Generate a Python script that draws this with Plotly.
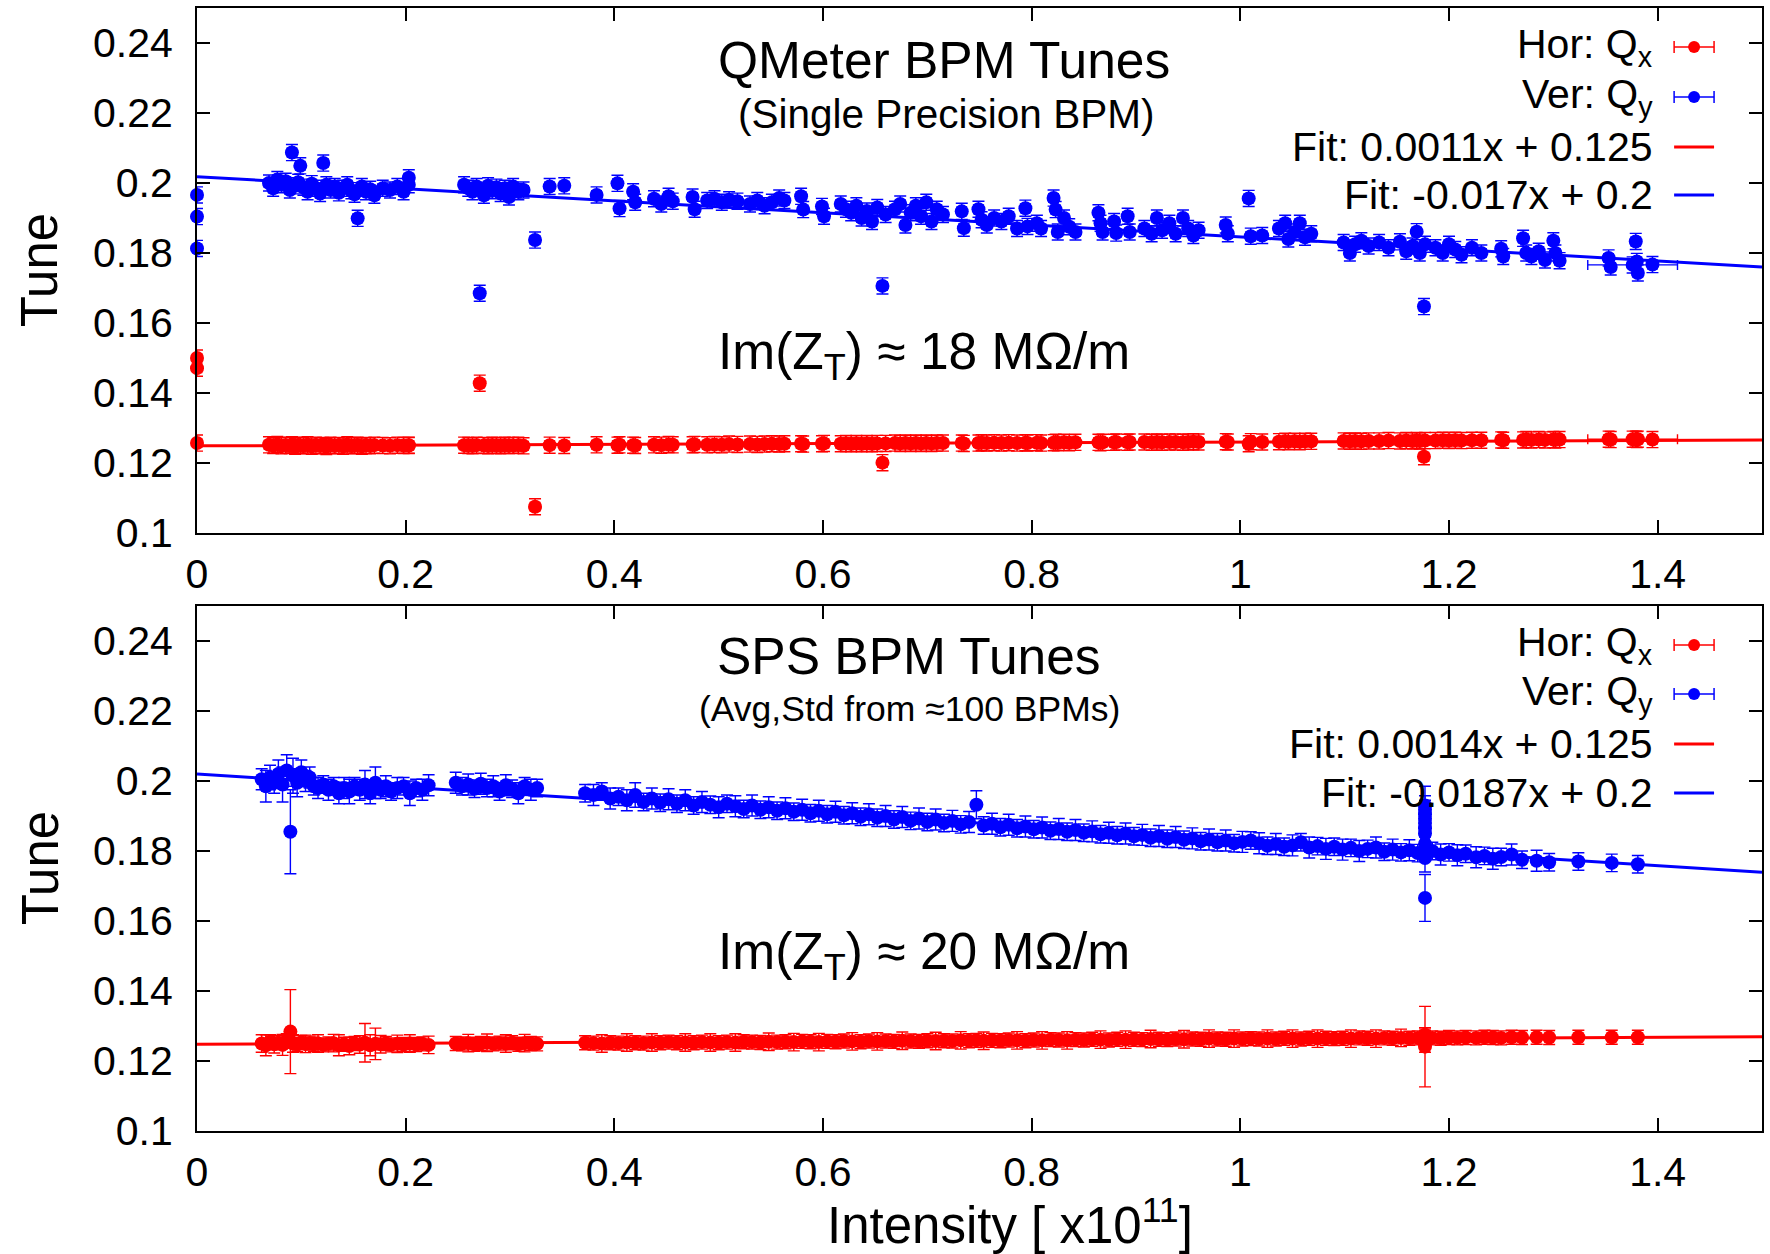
import plotly.graph_objects as go

# ---------------- DATA ----------------
# Top panel: QMeter BPM tunes (intensity in 1e11)
x_top = [
    0.000, 0.000, 0.000, 0.069, 0.073, 0.077, 0.081, 0.085, 0.089, 0.091,
    0.094, 0.097, 0.099, 0.102, 0.106, 0.110, 0.114, 0.118, 0.121, 0.124,
    0.128, 0.132, 0.136, 0.140, 0.144, 0.148, 0.151, 0.154, 0.158, 0.162,
    0.166, 0.170, 0.178, 0.185, 0.192, 0.198, 0.203, 0.203, 0.256, 0.260,
    0.264, 0.268, 0.271, 0.275, 0.279, 0.283, 0.287, 0.291, 0.295, 0.299,
    0.303, 0.308, 0.313, 0.324, 0.338, 0.352, 0.383, 0.403, 0.405, 0.418,
    0.420, 0.438, 0.445, 0.452, 0.456, 0.475, 0.477, 0.489, 0.496, 0.503,
    0.510, 0.518, 0.530, 0.537, 0.544, 0.551, 0.558, 0.563, 0.579, 0.581,
    0.599, 0.601, 0.617, 0.622, 0.627, 0.632, 0.637, 0.642, 0.647, 0.652,
    0.657, 0.660, 0.669, 0.674, 0.679, 0.684, 0.689, 0.694, 0.699, 0.704,
    0.709, 0.715, 0.733, 0.735, 0.749, 0.752, 0.757, 0.764, 0.771, 0.778,
    0.786, 0.794, 0.796, 0.805, 0.809, 0.821, 0.823, 0.825, 0.831, 0.836,
    0.842, 0.864, 0.866, 0.868, 0.879, 0.881, 0.892, 0.894, 0.908, 0.915,
    0.920, 0.925, 0.932, 0.938, 0.945, 0.950, 0.955, 0.960, 0.986, 0.988,
    1.008, 1.010, 1.021, 1.037, 1.043, 1.046, 1.052, 1.057, 1.062, 1.068,
    1.099, 1.105, 1.110, 1.116, 1.123, 1.133, 1.142, 1.153, 1.159, 1.165,
    1.169, 1.172, 1.176, 1.177, 1.187, 1.194, 1.200, 1.206, 1.212, 1.222,
    1.231, 1.250, 1.252, 1.271, 1.274, 1.279, 1.286, 1.292, 1.300, 1.302,
    1.306, 1.353, 1.355, 1.379, 1.380, 1.381, 1.395,
]
qy_top = [
    0.1966, 0.1904, 0.1813, 0.2000, 0.1985, 0.2010, 0.1995, 0.2005, 0.1980, 0.2087,
    0.1992, 0.2002, 0.2049, 0.1988, 0.1975, 0.1998, 0.1985, 0.1970, 0.2057, 0.1995,
    0.1980, 0.1990, 0.1972, 0.1985, 0.1995, 0.1978, 0.1968, 0.1899, 0.1990, 0.1975,
    0.1982, 0.1965, 0.1985, 0.1980, 0.1990, 0.1975, 0.2015, 0.1995, 0.1995, 0.1985,
    0.1975, 0.1990, 0.1685, 0.1965, 0.1992, 0.1978, 0.1988, 0.1970, 0.1985, 0.1960,
    0.1990, 0.1975, 0.1980, 0.1837, 0.1990, 0.1992, 0.1966, 0.1999, 0.1927, 0.1975,
    0.1945, 0.1955, 0.1940, 0.1962, 0.1948, 0.1960, 0.1925, 0.1950, 0.1955, 0.1945,
    0.1952, 0.1948, 0.1940, 0.1950, 0.1935, 0.1945, 0.1957, 0.1950, 0.1962, 0.1924,
    0.1933, 0.1905, 0.1940, 0.1925, 0.1915, 0.1935, 0.1900, 0.1920, 0.1890, 0.1930,
    0.1706, 0.1910, 0.1925, 0.1940, 0.1880, 0.1915, 0.1935, 0.1905, 0.1945, 0.1890,
    0.1925, 0.1910, 0.1919, 0.1871, 0.1925, 0.1895, 0.1880, 0.1900, 0.1890, 0.1905,
    0.1870, 0.1928, 0.1876, 0.1885, 0.1870, 0.1957, 0.1924, 0.1860, 0.1900, 0.1875,
    0.1860, 0.1915, 0.1885, 0.1860, 0.1890, 0.1857, 0.1905, 0.1860, 0.1870, 0.1855,
    0.1900, 0.1865, 0.1885, 0.1855, 0.1900, 0.1870, 0.1850, 0.1865, 0.1880, 0.1855,
    0.1956, 0.1848, 0.1850, 0.1870, 0.1885, 0.1840, 0.1860, 0.1885, 0.1845, 0.1855,
    0.1830, 0.1800, 0.1825, 0.1835, 0.1820, 0.1830, 0.1815, 0.1832, 0.1805, 0.1820,
    0.1861, 0.1800, 0.1647, 0.1825, 0.1815, 0.1800, 0.1825, 0.1810, 0.1795, 0.1815,
    0.1800, 0.1812, 0.1790, 0.1842, 0.1800, 0.1790, 0.1805, 0.1780, 0.1835, 0.1800,
    0.1778, 0.1786, 0.1760, 0.1833, 0.1776, 0.1743, 0.1767,
]
qx_top = [
    0.1500, 0.1471, 0.1257, 0.1252, 0.1250, 0.1253, 0.1249, 0.1251, 0.1250, 0.1252,
    0.1248, 0.1251, 0.1250, 0.1249, 0.1252, 0.1248, 0.1251, 0.1249, 0.1250, 0.1247,
    0.1251, 0.1249, 0.1250, 0.1248, 0.1252, 0.1249, 0.1250, 0.1251, 0.1248, 0.1250,
    0.1249, 0.1251, 0.1250, 0.1249, 0.1251, 0.1250, 0.1250, 0.1251, 0.1251, 0.1250,
    0.1249, 0.1251, 0.1428, 0.1250, 0.1249, 0.1251, 0.1250, 0.1249, 0.1251, 0.1250,
    0.1250, 0.1251, 0.1249, 0.1075, 0.1251, 0.1250, 0.1252, 0.1251, 0.1252, 0.1251,
    0.1250, 0.1252, 0.1251, 0.1253, 0.1252, 0.1252, 0.1253, 0.1252, 0.1253, 0.1252,
    0.1254, 0.1253, 0.1254, 0.1253, 0.1254, 0.1255, 0.1254, 0.1255, 0.1255, 0.1254,
    0.1255, 0.1256, 0.1255, 0.1256, 0.1255, 0.1256, 0.1255, 0.1256, 0.1255, 0.1256,
    0.1201, 0.1256, 0.1257, 0.1256, 0.1257, 0.1256, 0.1257, 0.1256, 0.1257, 0.1256,
    0.1257, 0.1257, 0.1257, 0.1256, 0.1257, 0.1258, 0.1257, 0.1258, 0.1257, 0.1258,
    0.1257, 0.1258, 0.1257, 0.1258, 0.1257, 0.1258, 0.1259, 0.1258, 0.1259, 0.1258,
    0.1259, 0.1259, 0.1258, 0.1259, 0.1259, 0.1260, 0.1259, 0.1260, 0.1260, 0.1259,
    0.1260, 0.1259, 0.1260, 0.1260, 0.1259, 0.1260, 0.1261, 0.1260, 0.1261, 0.1260,
    0.1255, 0.1261, 0.1260, 0.1261, 0.1262, 0.1261, 0.1262, 0.1261, 0.1262, 0.1262,
    0.1263, 0.1262, 0.1263, 0.1262, 0.1263, 0.1263, 0.1264, 0.1263, 0.1264, 0.1263,
    0.1264, 0.1263, 0.1218, 0.1264, 0.1264, 0.1265, 0.1264, 0.1265, 0.1264, 0.1265,
    0.1265, 0.1266, 0.1265, 0.1266, 0.1267, 0.1266, 0.1267, 0.1266, 0.1267, 0.1266,
    0.1267, 0.1268, 0.1267, 0.1268, 0.1267, 0.1268, 0.1267,
]
# one top-panel point carrying a wide horizontal error bar
wide_x_top = [1.376]
wide_xerr_top = [0.043]
wide_qx_top = [0.1268]
wide_qy_top = [0.1766]

# Bottom panel: SPS BPM tunes (average and std over ~100 BPMs)
x_bot = [
    0.062, 0.066, 0.070, 0.074, 0.078, 0.082, 0.086, 0.0895, 0.092, 0.096,
    0.100, 0.104, 0.108, 0.112, 0.116, 0.121, 0.126, 0.131, 0.136, 0.141,
    0.146, 0.151, 0.156, 0.161, 0.166, 0.171, 0.176, 0.181, 0.186, 0.192,
    0.198, 0.204, 0.210, 0.216, 0.222, 0.248, 0.254, 0.260, 0.266, 0.272,
    0.278, 0.284, 0.290, 0.296, 0.302, 0.308, 0.314, 0.320, 0.326, 0.372,
    0.380, 0.388, 0.396, 0.404, 0.412, 0.420, 0.428, 0.436, 0.444, 0.452,
    0.460, 0.468, 0.476, 0.484, 0.492, 0.500, 0.508, 0.516, 0.524, 0.532,
    0.540, 0.548, 0.556, 0.564, 0.572, 0.580, 0.588, 0.596, 0.604, 0.612,
    0.620, 0.628, 0.636, 0.644, 0.652, 0.660, 0.668, 0.676, 0.684, 0.692,
    0.700, 0.708, 0.716, 0.724, 0.732, 0.740, 0.747, 0.754, 0.762, 0.770,
    0.778, 0.786, 0.794, 0.802, 0.810, 0.818, 0.826, 0.834, 0.842, 0.850,
    0.858, 0.866, 0.874, 0.882, 0.890, 0.898, 0.906, 0.914, 0.922, 0.930,
    0.938, 0.946, 0.954, 0.962, 0.970, 0.978, 0.986, 0.994, 1.002, 1.010,
    1.018, 1.026, 1.034, 1.042, 1.050, 1.058, 1.066, 1.074, 1.082, 1.090,
    1.098, 1.106, 1.114, 1.122, 1.130, 1.138, 1.146, 1.154, 1.162, 1.170,
    1.177, 1.177, 1.177, 1.177, 1.177, 1.177, 1.184, 1.192, 1.200, 1.208,
    1.177, 1.177, 1.177, 1.177,
    1.216, 1.226, 1.234, 1.242, 1.250, 1.260, 1.270, 1.284, 1.296, 1.324,
    1.356, 1.381,
]
qy_bot = [
    0.2005, 0.1985, 0.2010, 0.1995, 0.2020, 0.1990, 0.2030, 0.1855, 0.2015, 0.1995,
    0.2025, 0.2000, 0.2010, 0.1985, 0.1980, 0.1990, 0.1975, 0.1985, 0.1965, 0.1980,
    0.1970, 0.1985, 0.1975, 0.1990, 0.1965, 0.1995, 0.1975, 0.1985, 0.1970, 0.1980,
    0.1985, 0.1965, 0.1980, 0.1975, 0.1988, 0.1995, 0.1985, 0.1990, 0.1978, 0.1992,
    0.1980, 0.1985, 0.1970, 0.1988, 0.1978, 0.1965, 0.1985, 0.1975, 0.1980, 0.1965,
    0.1960, 0.1970, 0.1950, 0.1955, 0.1945, 0.1960, 0.1940, 0.1950, 0.1938, 0.1948,
    0.1935, 0.1945, 0.1930, 0.1940, 0.1932, 0.1925, 0.1935, 0.1928, 0.1920, 0.1930,
    0.1918, 0.1925, 0.1915, 0.1922, 0.1912, 0.1918, 0.1908, 0.1915, 0.1905, 0.1912,
    0.1902, 0.1908, 0.1898, 0.1905, 0.1895, 0.1900, 0.1890, 0.1897, 0.1886, 0.1893,
    0.1883, 0.1890, 0.1880, 0.1886, 0.1876, 0.1883, 0.1932, 0.1873, 0.1878, 0.1868,
    0.1875, 0.1865, 0.1870, 0.1862, 0.1867, 0.1858, 0.1863, 0.1855, 0.1860, 0.1852,
    0.1856, 0.1848, 0.1852, 0.1845, 0.1850, 0.1842, 0.1846, 0.1838, 0.1843, 0.1835,
    0.1840, 0.1832, 0.1836, 0.1828, 0.1833, 0.1825, 0.1830, 0.1822, 0.1826, 0.1830,
    0.1822, 0.1815, 0.1820, 0.1812, 0.1816, 0.1825, 0.1810, 0.1814, 0.1806, 0.1812,
    0.1804, 0.1809, 0.1800, 0.1806, 0.1810, 0.1798, 0.1804, 0.1796, 0.1802, 0.1794,
    0.1930, 0.1905, 0.1880, 0.1850, 0.1780, 0.1666, 0.1800, 0.1790, 0.1796, 0.1788,
    0.1918, 0.1892, 0.1865, 0.1820,
    0.1792, 0.1782, 0.1786, 0.1778, 0.1783, 0.1790, 0.1775, 0.1772, 0.1768, 0.1770,
    0.1766, 0.1762,
]
qy_err_bot = [
    0.0030, 0.0045, 0.0035, 0.0030, 0.0040, 0.0050, 0.0045, 0.0120, 0.0050, 0.0040,
    0.0035, 0.0030, 0.0030, 0.0025, 0.0030, 0.0025, 0.0030, 0.0025, 0.0030, 0.0030,
    0.0035, 0.0025, 0.0030, 0.0040, 0.0030, 0.0045, 0.0025, 0.0030, 0.0025, 0.0030,
    0.0025, 0.0035, 0.0025, 0.0030, 0.0030, 0.0030, 0.0025, 0.0030, 0.0025, 0.0030,
    0.0025, 0.0030, 0.0025, 0.0030, 0.0025, 0.0030, 0.0025, 0.0030, 0.0025, 0.0025,
    0.0030, 0.0025, 0.0030, 0.0025, 0.0030, 0.0035, 0.0025, 0.0030, 0.0025, 0.0030,
    0.0025, 0.0030, 0.0025, 0.0030, 0.0025, 0.0030, 0.0025, 0.0030, 0.0025, 0.0030,
    0.0025, 0.0030, 0.0025, 0.0030, 0.0025, 0.0030, 0.0025, 0.0030, 0.0025, 0.0030,
    0.0025, 0.0030, 0.0025, 0.0030, 0.0025, 0.0030, 0.0025, 0.0030, 0.0025, 0.0030,
    0.0025, 0.0030, 0.0025, 0.0030, 0.0025, 0.0030, 0.0040, 0.0025, 0.0030, 0.0025,
    0.0030, 0.0025, 0.0030, 0.0025, 0.0030, 0.0025, 0.0030, 0.0025, 0.0030, 0.0025,
    0.0030, 0.0025, 0.0030, 0.0025, 0.0030, 0.0025, 0.0030, 0.0025, 0.0030, 0.0025,
    0.0030, 0.0025, 0.0030, 0.0025, 0.0030, 0.0025, 0.0030, 0.0025, 0.0030, 0.0025,
    0.0030, 0.0025, 0.0030, 0.0025, 0.0030, 0.0025, 0.0030, 0.0025, 0.0030, 0.0025,
    0.0030, 0.0025, 0.0030, 0.0025, 0.0030, 0.0025, 0.0030, 0.0025, 0.0030, 0.0025,
    0.0055, 0.0040, 0.0040, 0.0040, 0.0040, 0.0067, 0.0025, 0.0030, 0.0025, 0.0030,
    0.0040, 0.0040, 0.0040, 0.0040,
    0.0025, 0.0030, 0.0025, 0.0030, 0.0025, 0.0030, 0.0025, 0.0030, 0.0025, 0.0025,
    0.0025, 0.0025,
]
qx_bot = [
    0.1250, 0.1245, 0.1255, 0.1248, 0.1252, 0.1246, 0.1258, 0.1284, 0.1250, 0.1247,
    0.1253, 0.1249, 0.1251, 0.1248, 0.1250, 0.1246, 0.1249, 0.1251, 0.1245, 0.1248,
    0.1243, 0.1250, 0.1247, 0.1252, 0.1245, 0.1249, 0.1248, 0.1250, 0.1246, 0.1249,
    0.1247, 0.1250, 0.1247, 0.1249, 0.1246, 0.1250, 0.1249, 0.1251, 0.1248, 0.1250,
    0.1252, 0.1249, 0.1251, 0.1250, 0.1252, 0.1248, 0.1251, 0.1250, 0.1249, 0.1252,
    0.1251, 0.1250, 0.1252, 0.1251, 0.1253, 0.1252, 0.1251, 0.1253, 0.1252, 0.1254,
    0.1252, 0.1253, 0.1252, 0.1254, 0.1253, 0.1252, 0.1254, 0.1253, 0.1255, 0.1254,
    0.1253, 0.1255, 0.1254, 0.1255, 0.1254, 0.1256, 0.1255, 0.1254, 0.1256, 0.1255,
    0.1257, 0.1256, 0.1255, 0.1257, 0.1256, 0.1257, 0.1256, 0.1258, 0.1257, 0.1256,
    0.1258, 0.1257, 0.1258, 0.1257, 0.1259, 0.1258, 0.1259, 0.1258, 0.1259, 0.1258,
    0.1260, 0.1259, 0.1258, 0.1260, 0.1259, 0.1261, 0.1260, 0.1259, 0.1261, 0.1260,
    0.1262, 0.1261, 0.1260, 0.1262, 0.1261, 0.1262, 0.1261, 0.1263, 0.1262, 0.1261,
    0.1263, 0.1262, 0.1263, 0.1262, 0.1264, 0.1263, 0.1262, 0.1264, 0.1263, 0.1264,
    0.1263, 0.1264, 0.1263, 0.1265, 0.1264, 0.1263, 0.1265, 0.1264, 0.1265, 0.1264,
    0.1265, 0.1264, 0.1266, 0.1265, 0.1264, 0.1266, 0.1265, 0.1266, 0.1265, 0.1266,
    0.1241, 0.1275, 0.1262, 0.1250, 0.1268, 0.1258, 0.1266, 0.1265, 0.1267, 0.1266,
    0.1262, 0.1256, 0.1270, 0.1259,
    0.1267, 0.1266, 0.1268, 0.1267, 0.1266, 0.1268, 0.1267, 0.1268, 0.1267, 0.1268,
    0.1268, 0.1268,
]
qx_err_bot = [
    0.0025, 0.0030, 0.0020, 0.0025, 0.0020, 0.0030, 0.0020, 0.0120, 0.0025, 0.0020,
    0.0020, 0.0025, 0.0020, 0.0020, 0.0025, 0.0020, 0.0020, 0.0025, 0.0030, 0.0020,
    0.0025, 0.0020, 0.0025, 0.0055, 0.0030, 0.0045, 0.0025, 0.0020, 0.0020, 0.0025,
    0.0020, 0.0025, 0.0020, 0.0020, 0.0025, 0.0020, 0.0020, 0.0025, 0.0020, 0.0020,
    0.0025, 0.0020, 0.0020, 0.0025, 0.0020, 0.0020, 0.0025, 0.0020, 0.0020, 0.0020,
    0.0020, 0.0025, 0.0020, 0.0020, 0.0025, 0.0020, 0.0020, 0.0025, 0.0020, 0.0020,
    0.0020, 0.0025, 0.0020, 0.0020, 0.0025, 0.0020, 0.0020, 0.0025, 0.0020, 0.0020,
    0.0020, 0.0025, 0.0020, 0.0020, 0.0025, 0.0020, 0.0020, 0.0025, 0.0020, 0.0020,
    0.0020, 0.0025, 0.0020, 0.0020, 0.0025, 0.0020, 0.0020, 0.0025, 0.0020, 0.0020,
    0.0020, 0.0025, 0.0020, 0.0020, 0.0025, 0.0020, 0.0020, 0.0025, 0.0020, 0.0020,
    0.0020, 0.0025, 0.0020, 0.0020, 0.0025, 0.0020, 0.0020, 0.0025, 0.0020, 0.0020,
    0.0020, 0.0025, 0.0020, 0.0020, 0.0025, 0.0020, 0.0020, 0.0025, 0.0020, 0.0020,
    0.0020, 0.0025, 0.0020, 0.0020, 0.0025, 0.0020, 0.0020, 0.0025, 0.0020, 0.0020,
    0.0020, 0.0025, 0.0020, 0.0020, 0.0025, 0.0020, 0.0020, 0.0025, 0.0020, 0.0020,
    0.0020, 0.0025, 0.0020, 0.0020, 0.0025, 0.0020, 0.0020, 0.0025, 0.0020, 0.0020,
    0.0115, 0.0020, 0.0020, 0.0025, 0.0020, 0.0020, 0.0020, 0.0020, 0.0020, 0.0020,
    0.0020, 0.0020, 0.0025, 0.0020,
    0.0020, 0.0020, 0.0020, 0.0020, 0.0020, 0.0020, 0.0020, 0.0020, 0.0020, 0.0020,
    0.0020, 0.0020,
]

# linear fits: (slope, intercept) and legend labels
fit_top_qx = (0.0011, 0.1249)
fit_top_qy = (-0.0172, 0.2018)
fit_bot_qx = (0.0014, 0.1248)
fit_bot_qy = (-0.0187, 0.2020)
fit_x_range = [0.0, 1.5]
labels_top = ["Hor: Q<sub>x</sub>", "Ver: Q<sub>y</sub>",
              "Fit: 0.0011x + 0.125", "Fit: -0.017x + 0.2"]
labels_bot = ["Hor: Q<sub>x</sub>", "Ver: Q<sub>y</sub>",
              "Fit: 0.0014x + 0.125", "Fit: -0.0187x + 0.2"]

x_ticks = [0, 0.2, 0.4, 0.6, 0.8, 1.0, 1.2, 1.4]
x_ticktext = ["0", "0.2", "0.4", "0.6", "0.8", "1", "1.2", "1.4"]
y_ticks = [0.10, 0.12, 0.14, 0.16, 0.18, 0.20, 0.22, 0.24]
y_ticktext = ["0.1", "0.12", "0.14", "0.16", "0.18", "0.2", "0.22", "0.24"]

# ---------------- FIGURE ----------------
W, H = 1770, 1254
L, R, T, B = 197, 1764, 8, 1131
TOP_BOTTOM_PX, BOT_TOP_PX = 533, 606
FONT = "Liberation Sans, Arial, Helvetica, sans-serif"
RED, BLUE = "#ff0000", "#0000ff"
BIG, SMALL = 51.5, 41


def px(x):
    return (x - L) / (R - L)


def py(y):
    return (B - y) / (B - T)


fig = go.Figure()


def add_points(x, y, color, xa, ya, yerr=None, yerr_const=None, xerr_const=None, xerr=None):
    ey = dict(type="data", array=yerr, visible=True) if yerr is not None else \
        dict(type="constant", value=yerr_const, visible=True)
    ex = dict(type="data", array=xerr, visible=True) if xerr is not None else \
        dict(type="constant", value=xerr_const, visible=True)
    ey.update(color=color, thickness=1.4, width=6)
    ex.update(color=color, thickness=1.4, width=5)
    fig.add_trace(go.Scatter(
        x=x, y=y, mode="markers", xaxis=xa, yaxis=ya, cliponaxis=False,
        marker=dict(color=color, size=14, line=dict(width=0)),
        error_y=ey, error_x=ex, showlegend=False, hoverinfo="skip"))


def add_fit(fit, color, xa, ya):
    m, b = fit
    fig.add_trace(go.Scatter(
        x=fit_x_range, y=[b + m * v for v in fit_x_range], mode="lines",
        xaxis=xa, yaxis=ya, line=dict(color=color, width=3),
        showlegend=False, hoverinfo="skip"))


# top panel
add_fit(fit_top_qx, RED, "x", "y")
add_fit(fit_top_qy, BLUE, "x", "y")
add_points(x_top, qx_top, RED, "x", "y", yerr_const=0.0023, xerr_const=0.0045)
add_points(x_top, qy_top, BLUE, "x", "y", yerr_const=0.0023, xerr_const=0.0045)
add_points(wide_x_top, wide_qx_top, RED, "x", "y", yerr_const=0.0023, xerr=wide_xerr_top)
add_points(wide_x_top, wide_qy_top, BLUE, "x", "y", yerr_const=0.0023, xerr=wide_xerr_top)

# bottom panel
add_fit(fit_bot_qx, RED, "x2", "y2")
add_fit(fit_bot_qy, BLUE, "x2", "y2")
add_points(x_bot, qx_bot, RED, "x2", "y2", yerr=qx_err_bot, xerr_const=0.004)
add_points(x_bot, qy_bot, BLUE, "x2", "y2", yerr=qy_err_bot, xerr_const=0.004)

axis_common = dict(
    showline=True, linewidth=2, linecolor="black", mirror="ticks",
    ticks="inside", ticklen=13, tickwidth=2, tickcolor="black",
    showgrid=False, zeroline=False,
    tickfont=dict(family=FONT, size=SMALL, color="black"),
)
xax = dict(axis_common, range=[0, 1.5], tickvals=x_ticks, ticktext=x_ticktext,
           ticklabelstandoff=4)
yax = dict(axis_common, range=[0.1, 0.25], tickvals=y_ticks, ticktext=y_ticktext,
           ticklabelstandoff=14)

fig.update_layout(
    width=W, height=H,
    margin=dict(l=L, r=W - R, t=T, b=H - B, pad=0),
    paper_bgcolor="white", plot_bgcolor="white",
    font=dict(family=FONT, color="black"),
    xaxis=dict(xax, domain=[0, 1], anchor="y"),
    yaxis=dict(yax, domain=[py(TOP_BOTTOM_PX), 1], anchor="x"),
    xaxis2=dict(xax, domain=[0, 1], anchor="y2"),
    yaxis2=dict(yax, domain=[0, py(BOT_TOP_PX)], anchor="x2"),
    showlegend=False,
)

annotations = []
shapes = []


def text(xp, yp, s, size, xanchor="center"):
    annotations.append(dict(
        x=px(xp), y=py(yp), xref="paper", yref="paper", text=s, showarrow=False,
        xanchor=xanchor, yanchor="middle", font=dict(family=FONT, size=size, color="black")))


# titles and notes
text(945, 60, "QMeter BPM Tunes", BIG)
text(947, 114, "(Single Precision BPM)", 40.5)
text(925, 355, "Im(Z<sub>T</sub>) ≈ 18 MΩ/m", BIG)
text(910, 656, "SPS BPM Tunes", BIG)
text(910, 709, "(Avg,Std from ≈100 BPMs)", 35.5)
text(925, 955, "Im(Z<sub>T</sub>) ≈ 20 MΩ/m", BIG)

# axis titles
for ty in (270, 868):
    annotations.append(dict(x=px(40), y=py(ty), xref="paper", yref="paper", text="Tune",
                            textangle=-90, showarrow=False, xanchor="center", yanchor="middle",
                            font=dict(family=FONT, size=51, color="black")))
text(1011, 1222, "Intensity [ x10<sup>11</sup>]", 51)

# custom legends (text right-aligned, key on the right)
KEY_X0, KEY_X1, TEXT_R = 1676, 1716, 1657


def legend(rows_y, labels):
    for i, (yy, lab) in enumerate(zip(rows_y, labels)):
        text(TEXT_R, yy, lab, SMALL, xanchor="right")
        color = RED if i in (0, 2) else BLUE
        if i < 2:
            shapes.append(dict(type="line", xref="paper", yref="paper",
                               x0=px(KEY_X0), x1=px(KEY_X1), y0=py(yy), y1=py(yy),
                               line=dict(color=color, width=1.5)))
            for kx in (KEY_X0, KEY_X1):
                shapes.append(dict(type="line", xref="paper", yref="paper",
                                   x0=px(kx), x1=px(kx), y0=py(yy - 6), y1=py(yy + 6),
                                   line=dict(color=color, width=1.5)))
            cx = (KEY_X0 + KEY_X1) / 2
            shapes.append(dict(type="circle", xref="paper", yref="paper",
                               x0=px(cx - 6), x1=px(cx + 6), y0=py(yy + 6), y1=py(yy - 6),
                               fillcolor=color, line=dict(color=color, width=0)))
        else:
            shapes.append(dict(type="line", xref="paper", yref="paper",
                               x0=px(KEY_X0), x1=px(KEY_X1), y0=py(yy), y1=py(yy),
                               line=dict(color=color, width=3)))


legend([47, 97, 147, 195], labels_top)
legend([645, 694, 744, 793], labels_bot)

fig.update_layout(annotations=annotations, shapes=shapes)
fig.write_html("out.html", config={"displayModeBar": False},
               post_script="document.body.style.margin='0px';")
